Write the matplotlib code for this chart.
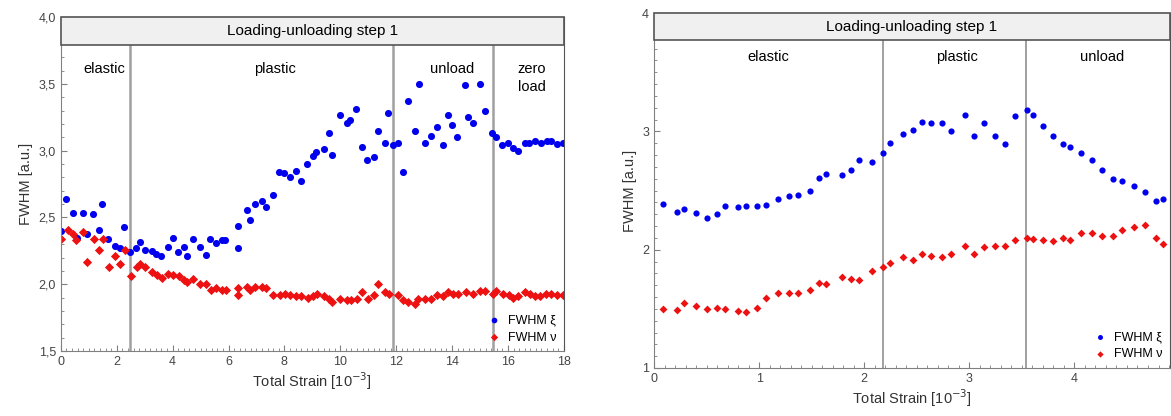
import matplotlib.pyplot as plt
from matplotlib.ticker import MultipleLocator, FuncFormatter
from matplotlib.patches import Rectangle

plt.rcParams['font.family'] = ['Liberation Sans', 'DejaVu Sans']

# left panel: loading-unloading step 1, strain 0..18
left_xi_x = [0.0, 0.2, 0.42, 0.56, 0.8, 0.94, 1.16, 1.35, 1.48, 1.69, 1.92, 2.11, 2.27, 2.48,
             2.7, 2.84, 3.01, 3.26, 3.41, 3.6, 3.82, 4.01, 4.2, 4.39, 4.51, 4.72, 4.97, 5.19,
             5.34, 5.54, 5.75, 5.89, 6.33, 6.33, 6.66, 6.76, 6.94, 7.18, 7.34, 7.6, 7.8, 7.99,
             8.2, 8.42, 8.61, 8.82, 9.01, 9.13, 9.41, 9.59, 9.71, 9.99, 10.23, 10.36, 10.56,
             10.78, 10.97, 11.2, 11.35, 11.6, 11.71, 11.88, 12.06, 12.25, 12.43, 12.69, 12.81,
             13.04, 13.23, 13.47, 13.66, 13.84, 13.99, 14.18, 14.47, 14.56, 14.74, 15.0, 15.19,
             15.43, 15.59, 15.77, 16.01, 16.17, 16.37, 16.6, 16.76, 16.96, 17.17, 17.38, 17.53,
             17.74, 17.98]
left_xi_y = [2.40, 2.64, 2.53, 2.35, 2.535, 2.38, 2.525, 2.41, 2.60, 2.34, 2.29, 2.27, 2.43, 2.24,
             2.27, 2.32, 2.26, 2.25, 2.23, 2.21, 2.28, 2.35, 2.24, 2.28, 2.21, 2.34, 2.28, 2.22,
             2.34, 2.31, 2.33, 2.33, 2.27, 2.44, 2.555, 2.48, 2.60, 2.625, 2.575, 2.67, 2.84, 2.83,
             2.80, 2.85, 2.77, 2.90, 2.96, 2.99, 3.01, 3.13, 2.97, 3.27, 3.21, 3.23, 3.31,
             3.03, 2.93, 2.95, 3.15, 3.06, 3.28, 3.04, 3.06, 2.84, 3.37, 3.15, 3.50,
             3.06, 3.11, 3.18, 3.04, 3.27, 3.19, 3.10, 3.49, 3.25, 3.21, 3.50, 3.30,
             3.13, 3.10, 3.04, 3.06, 3.02, 3.00, 3.06, 3.06, 3.07, 3.06, 3.07, 3.07,
             3.05, 3.06]

left_nu_x = [0.0, 0.24, 0.42, 0.55, 0.8, 0.94, 1.18, 1.36, 1.49, 1.72, 1.93, 2.12, 2.29, 2.51,
             2.71, 2.84, 3.02, 3.26, 3.44, 3.63, 3.84, 4.03, 4.21, 4.39, 4.52, 4.74, 4.99, 5.19,
             5.36, 5.56, 5.75, 5.92, 6.35, 6.35, 6.66, 6.76, 6.94, 7.2, 7.35, 7.6, 7.83, 8.02,
             8.2, 8.4, 8.61, 8.85, 9.03, 9.18, 9.41, 9.6, 9.72, 9.99, 10.23, 10.37, 10.58,
             10.78, 11.0, 11.2, 11.36, 11.6, 11.75, 12.07, 12.25, 12.43, 12.68, 12.79, 13.03,
             13.24, 13.47, 13.66, 13.84, 14.02, 14.2, 14.5, 14.74, 15.0, 15.19, 15.45, 15.59,
             15.81, 16.05, 16.19, 16.37, 16.61, 16.79, 16.96, 17.14, 17.36, 17.53, 17.76, 17.96]
left_nu_y = [2.34, 2.41, 2.38, 2.33, 2.39, 2.17, 2.34, 2.26, 2.34, 2.13, 2.21, 2.15, 2.26, 2.06,
             2.13, 2.15, 2.13, 2.09, 2.07, 2.05, 2.08, 2.07, 2.06, 2.03, 2.02, 2.04, 2.00, 2.00,
             1.96, 1.97, 1.96, 1.96, 1.97, 1.92, 1.98, 1.96, 1.98, 1.98, 1.97, 1.92, 1.92, 1.93,
             1.92, 1.91, 1.91, 1.90, 1.91, 1.93, 1.91, 1.89, 1.87, 1.89, 1.88, 1.88, 1.89,
             1.94, 1.89, 1.92, 2.00, 1.94, 1.93, 1.92, 1.88, 1.87, 1.85, 1.89, 1.89,
             1.89, 1.92, 1.91, 1.94, 1.93, 1.93, 1.94, 1.93, 1.95, 1.95, 1.93, 1.95,
             1.93, 1.92, 1.90, 1.91, 1.94, 1.93, 1.91, 1.91, 1.93, 1.93, 1.92, 1.92]

left_bounds = [2.48, 11.9, 15.45]
left_regions = ['elastic', 'plastic', 'unload', 'zero\nload']
left_region_x = [1.55, 7.66, 14.0, 16.85]

# right panel: strain 0..~4.9
right_x = [0.09, 0.22, 0.29, 0.40, 0.50, 0.60, 0.68, 0.80, 0.88, 0.98, 1.07, 1.18, 1.28, 1.37,
           1.48, 1.57, 1.64, 1.79, 1.87, 1.95, 2.07, 2.18, 2.25, 2.37, 2.46, 2.55, 2.64, 2.74,
           2.83, 2.96, 3.04, 3.14, 3.24, 3.34, 3.43, 3.55, 3.61, 3.70, 3.80, 3.89, 3.96, 4.06,
           4.17, 4.26, 4.37, 4.45, 4.57, 4.67, 4.78, 4.84]
right_xi_y = [2.386, 2.32, 2.34, 2.31, 2.265, 2.30, 2.37, 2.36, 2.37, 2.37, 2.38, 2.43, 2.45, 2.46,
              2.50, 2.61, 2.64, 2.63, 2.67, 2.76, 2.74, 2.82, 2.90, 2.98, 3.01, 3.08, 3.07, 3.07,
              3.00, 3.14, 2.96, 3.07, 2.96, 2.89, 3.13, 3.18, 3.14, 3.05, 2.96, 2.89, 2.87, 2.82,
              2.76, 2.67, 2.60, 2.58, 2.54, 2.49, 2.41, 2.43]
right_nu_y = [1.50, 1.49, 1.55, 1.52, 1.50, 1.51, 1.50, 1.48, 1.47, 1.51, 1.59, 1.63, 1.63, 1.63,
              1.66, 1.72, 1.71, 1.77, 1.75, 1.74, 1.82, 1.85, 1.89, 1.94, 1.91, 1.96, 1.95, 1.94,
              1.96, 2.03, 1.96, 2.02, 2.03, 2.03, 2.08, 2.10, 2.09, 2.08, 2.07, 2.10, 2.08, 2.14,
              2.14, 2.12, 2.12, 2.17, 2.19, 2.21, 2.10, 2.05]

right_bounds = [2.18, 3.54]
right_regions = ['elastic', 'plastic', 'unload']
right_region_x = [1.09, 2.88, 4.26]

title = 'Loading-unloading step 1'
blue = '#0000ee'
red = '#ee1111'
gray = '#808080'


def style_axes(ax, header_frac, header_y):
    for side in ['left', 'bottom']:
        ax.spines[side].set_color(gray)
    for side in ['top', 'right']:
        ax.spines[side].set_color('#555555')
    ax.tick_params(which='both', direction='in', colors=gray, labelcolor='#444444',
                   labelsize=9)
    ax.tick_params(which='major', length=4)
    ax.tick_params(which='minor', length=2.5)
    ax.add_patch(Rectangle((0, 1 - header_frac), 1, header_frac, transform=ax.transAxes,
                           facecolor='#f0f0f0', edgecolor='#555555', lw=1.2, zorder=3,
                           clip_on=False))
    ax.text(0.5, 1 - header_frac / 2, title, transform=ax.transAxes, ha='center',
            va='center', fontsize=11, zorder=4)
    ax.set_xlabel('Total Strain [10$^{-3}$]', fontsize=10.5, color='#333333', labelpad=2)
    ax.set_ylabel('FWHM [a.u.]', fontsize=10.5, color='#333333', labelpad=4)
    ax.legend(loc='lower right', frameon=False, fontsize=9, handletextpad=0.1,
              borderaxespad=0.2, labelspacing=0.4, markerscale=0.8)


fig = plt.figure(figsize=(11.71, 4.16), dpi=100)

# left panel
ax1 = fig.add_axes([0.052, 0.156, 0.4295, 0.803])
ax1.scatter(left_xi_x, left_xi_y, s=26, color=blue, marker='o', linewidths=0,
            label='FWHM ξ', zorder=2)
ax1.scatter(left_nu_x, left_nu_y, s=22, color=red, marker='D', linewidths=0,
            label='FWHM ν', zorder=2)
for b in left_bounds:
    ax1.axvline(b, color='#a0a0a0', lw=1.8, zorder=1)
for name, x in zip(left_regions, left_region_x):
    ax1.text(x, 3.66, name, ha='center', va='top', fontsize=10.5, linespacing=1.3)
ax1.set_xlim(0, 18)
ax1.set_ylim(1.5, 4.0)
ax1.xaxis.set_major_locator(MultipleLocator(2))
ax1.xaxis.set_minor_locator(MultipleLocator(0.2))
ax1.yaxis.set_major_locator(MultipleLocator(0.5))
ax1.yaxis.set_minor_locator(MultipleLocator(0.1))
ax1.yaxis.set_major_formatter(FuncFormatter(lambda v, p: f'{v:.1f}'.replace('.', ',')))
style_axes(ax1, 0.084, 3.9)

# right panel
ax2 = fig.add_axes([0.5585, 0.1154, 0.4407, 0.853])
ax2.scatter(right_x, right_xi_y, s=20, color=blue, marker='o', linewidths=0,
            label='FWHM ξ', zorder=2)
ax2.scatter(right_x, right_nu_y, s=16, color=red, marker='D', linewidths=0,
            label='FWHM ν', zorder=2)
for b in right_bounds:
    ax2.axvline(b, color='#909090', lw=1.2, zorder=1)
for name, x in zip(right_regions, right_region_x):
    ax2.text(x, 3.63, name, ha='center', va='center', fontsize=10.5)
ax2.set_xlim(0, 4.91)
ax2.set_ylim(1, 4)
ax2.xaxis.set_major_locator(MultipleLocator(1))
ax2.xaxis.set_minor_locator(MultipleLocator(0.1))
ax2.yaxis.set_major_locator(MultipleLocator(1))
ax2.yaxis.set_minor_locator(MultipleLocator(0.1))
style_axes(ax2, 0.076, 3.9)

fig.savefig('out.png', dpi=100)
